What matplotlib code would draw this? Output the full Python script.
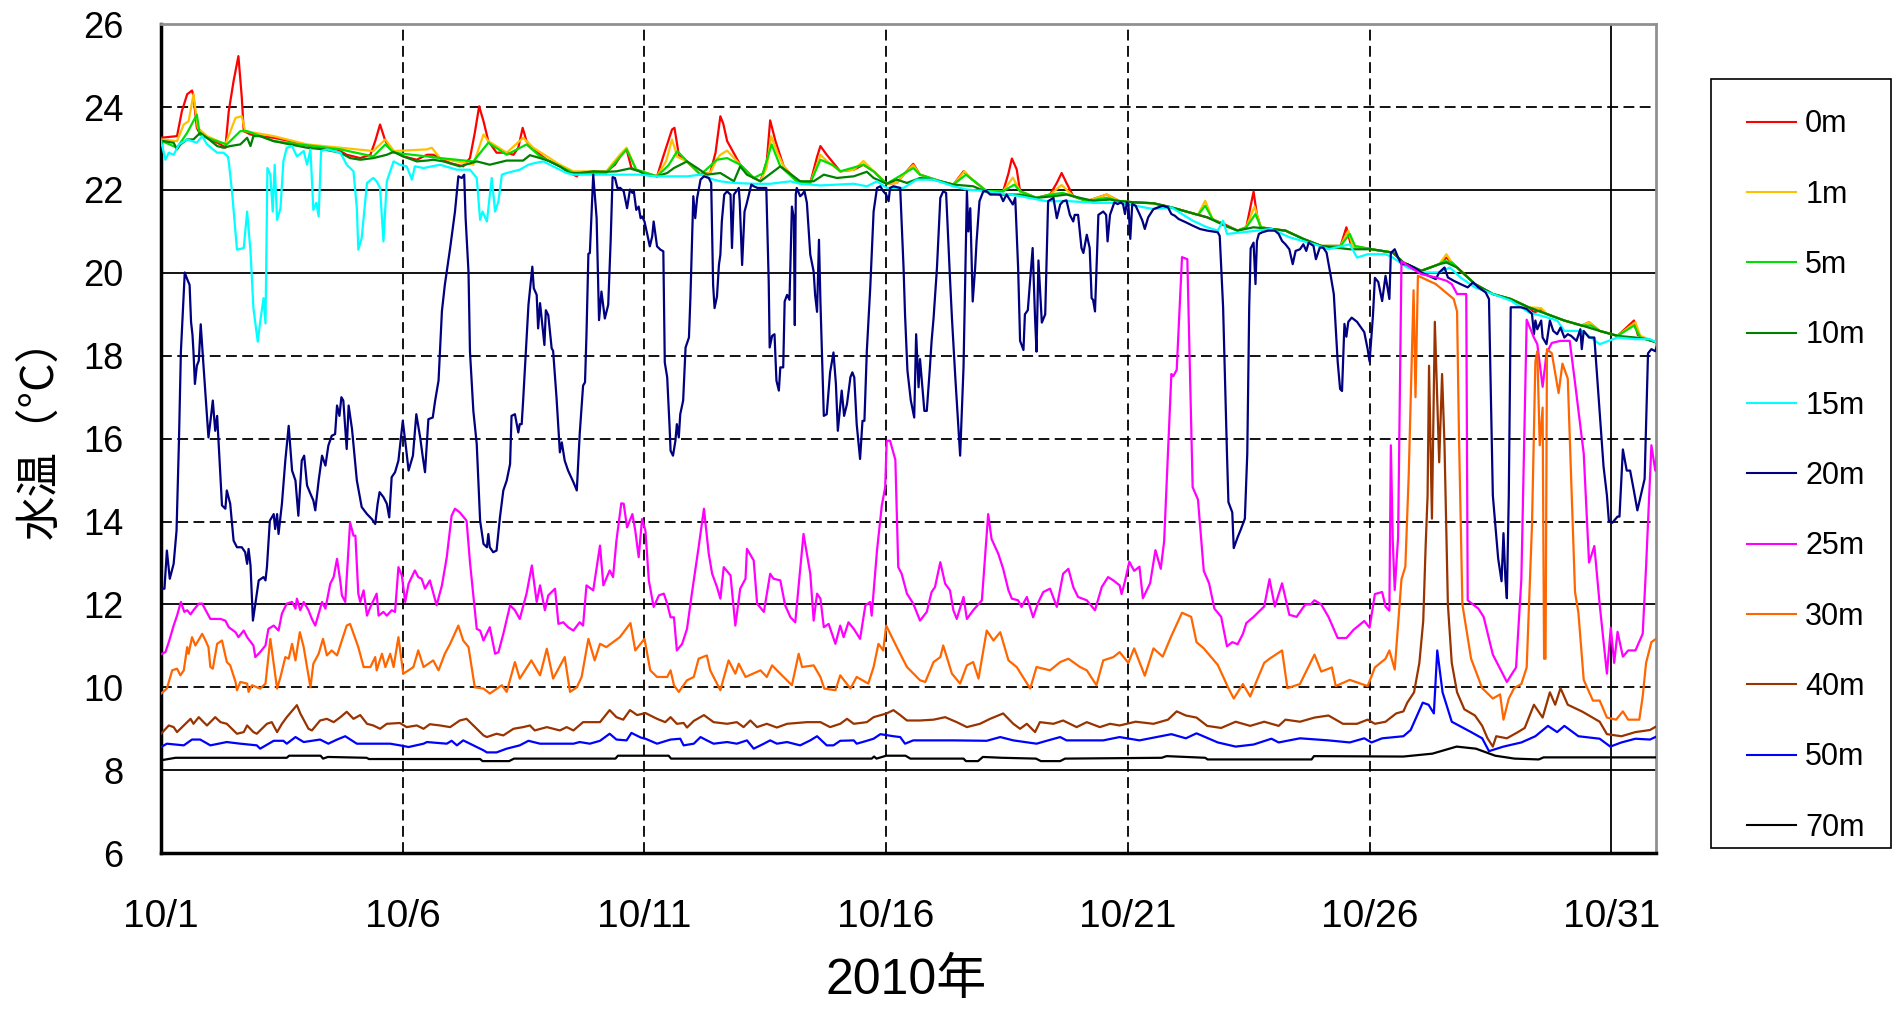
import matplotlib
matplotlib.use("Agg")
import matplotlib.pyplot as plt
from matplotlib.patches import Rectangle

# series names and colours, legend order
depths = ["0m", "1m", "5m", "10m", "15m", "20m", "25m", "30m", "40m", "50m", "70m"]
colors = ["#FF0000", "#FFC000", "#00E000", "#008000", "#00FFFF", "#000080",
          "#FF00FF", "#FF6600", "#993300", "#0000FF", "#000000"]

xticks = [0, 5, 10, 15, 20, 25, 30]
xticklabels = ["10/1", "10/6", "10/11", "10/16", "10/21", "10/26", "10/31"]
yticks = [6, 8, 10, 12, 14, 16, 18, 20, 22, 24, 26]

# (days since 10/1 0:00, water temperature degC)
t0m = [(0.00, 23.26), (0.33, 23.30), (0.43, 23.90), (0.54, 24.31), (0.64, 24.40), (0.67, 24.27),
       (0.74, 23.50), (0.81, 23.34), (0.95, 23.26), (1.23, 23.10), (1.33, 23.02), (1.40, 23.90),
       (1.50, 24.63), (1.60, 25.23), (1.67, 24.23), (1.71, 23.42), (1.85, 23.34), (2.05, 23.30),
       (2.33, 23.26), (2.67, 23.18), (3.02, 23.08), (3.36, 23.02), (3.64, 22.98), (3.84, 22.85),
       (4.12, 22.77), (4.33, 22.85), (4.43, 23.18), (4.53, 23.58), (4.64, 23.18), (4.81, 22.94),
       (5.01, 22.81), (5.29, 22.73), (5.50, 22.85), (5.63, 22.85), (5.77, 22.77), (5.98, 22.65),
       (6.25, 22.57), (6.39, 22.77), (6.49, 23.38), (6.58, 24.02), (6.67, 23.66), (6.77, 23.18),
       (6.94, 22.90), (7.15, 22.90), (7.29, 22.85), (7.39, 23.02), (7.48, 23.50), (7.56, 23.18),
       (7.70, 22.98), (7.98, 22.73), (8.25, 22.57), (8.46, 22.41), (8.60, 22.33), (8.66, 22.41),
       (8.94, 22.41), (9.21, 22.44), (9.39, 22.61), (9.52, 22.85), (9.63, 22.98), (9.73, 22.53),
       (9.90, 22.45), (10.26, 22.33), (10.40, 22.85), (10.57, 23.46), (10.62, 23.50), (10.71, 22.85),
       (10.88, 22.69), (11.16, 22.37), (11.36, 22.41), (11.47, 22.90), (11.57, 23.78), (11.63, 23.60),
       (11.71, 23.18), (11.98, 22.61), (12.26, 22.29), (12.40, 22.21), (12.53, 22.69), (12.60, 23.68),
       (12.71, 23.18), (12.88, 22.57), (13.15, 22.21), (13.43, 22.17), (13.57, 22.80), (13.64, 23.06),
       (13.77, 22.85), (14.05, 22.45), (14.33, 22.49), (14.53, 22.61), (14.74, 22.45), (15.01, 22.15),
       (15.22, 22.17), (15.36, 22.37), (15.56, 22.63), (15.70, 22.37), (16.12, 22.21), (16.39, 22.13),
       (16.60, 22.45), (16.74, 22.29), (17.08, 21.97), (17.42, 21.97), (17.53, 22.40), (17.60, 22.76),
       (17.70, 22.50), (17.77, 21.97), (18.11, 21.81), (18.39, 21.89), (18.53, 22.17), (18.63, 22.41),
       (18.73, 22.17), (18.87, 21.85), (19.15, 21.73), (19.56, 21.89), (19.83, 21.73), (20.16, 21.70),
       (20.53, 21.68), (20.90, 21.58), (21.27, 21.46), (21.64, 21.34), (21.95, 21.20), (22.27, 21.02),
       (22.45, 21.10), (22.60, 21.96), (22.67, 21.40), (22.75, 21.10), (22.97, 21.06), (23.26, 21.02),
       (23.63, 20.82), (24.00, 20.65), (24.40, 20.65), (24.52, 21.10), (24.62, 20.65), (25.04, 20.57),
       (25.48, 20.49), (25.70, 20.25), (26.07, 20.05), (26.44, 20.21), (26.59, 20.37), (26.70, 20.25),
       (26.81, 20.13), (27.18, 19.73), (27.55, 19.49), (27.92, 19.37), (28.29, 19.17), (28.40, 19.05),
       (28.55, 19.10), (28.66, 19.01), (29.03, 18.85), (29.39, 18.73), (29.54, 18.81), (29.76, 18.60),
       (30.13, 18.48), (30.47, 18.85), (30.55, 18.50), (30.72, 18.40), (30.95, 18.32)]

t1m = [(0.00, 23.22), (0.33, 23.18), (0.47, 23.58), (0.57, 23.66), (0.67, 24.31), (0.76, 23.50),
       (0.95, 23.30), (1.33, 23.10), (1.54, 23.74), (1.67, 23.78), (1.74, 23.42), (2.33, 23.30),
       (3.02, 23.10), (3.71, 23.02), (4.39, 22.94), (4.64, 23.22), (4.81, 22.94), (5.50, 22.98),
       (5.60, 23.02), (5.77, 22.77), (6.46, 22.61), (6.67, 23.34), (6.77, 23.18), (7.15, 22.90),
       (7.49, 23.26), (7.70, 23.02), (8.25, 22.61), (8.53, 22.45), (9.21, 22.45), (9.49, 22.85),
       (9.63, 23.02), (9.83, 22.49), (10.26, 22.33), (10.45, 22.70), (10.57, 23.22), (10.68, 22.80),
       (10.88, 22.69), (11.16, 22.37), (11.36, 22.41), (11.50, 22.75), (11.57, 22.85), (11.71, 22.95),
       (11.98, 22.61), (12.26, 22.29), (12.40, 22.21), (12.53, 22.55), (12.62, 23.30), (12.75, 22.90),
       (12.88, 22.57), (13.15, 22.21), (13.43, 22.17), (13.60, 22.70), (13.64, 22.85), (13.77, 22.70),
       (14.05, 22.45), (14.33, 22.49), (14.53, 22.70), (14.74, 22.45), (15.01, 22.15), (15.22, 22.17),
       (15.36, 22.37), (15.56, 22.60), (15.70, 22.37), (16.12, 22.21), (16.39, 22.13), (16.62, 22.45),
       (16.74, 22.29), (17.08, 21.97), (17.42, 21.97), (17.62, 22.30), (17.77, 21.97), (18.11, 21.81),
       (18.39, 21.89), (18.63, 22.12), (18.87, 21.85), (19.15, 21.73), (19.56, 21.89), (19.83, 21.73),
       (20.16, 21.70), (20.53, 21.68), (20.90, 21.58), (21.27, 21.46), (21.45, 21.40), (21.60, 21.74),
       (21.75, 21.30), (22.01, 21.14), (22.27, 21.02), (22.45, 21.10), (22.62, 21.60), (22.75, 21.10),
       (22.97, 21.06), (23.26, 21.02), (23.63, 20.82), (24.00, 20.65), (24.40, 20.65), (24.56, 21.02),
       (24.65, 20.65), (25.04, 20.57), (25.48, 20.49), (25.70, 20.25), (26.07, 20.05), (26.44, 20.21),
       (26.59, 20.45), (26.70, 20.25), (26.81, 20.13), (27.18, 19.73), (27.55, 19.49), (27.92, 19.37),
       (28.29, 19.17), (28.55, 19.15), (28.66, 19.01), (29.03, 18.85), (29.39, 18.73), (29.54, 18.81),
       (29.76, 18.60), (30.13, 18.48), (30.50, 18.81), (30.60, 18.48), (30.95, 18.32)]

t5m = [(0.00, 23.19), (0.33, 23.02), (0.54, 23.38), (0.74, 23.82), (0.80, 23.34), (0.95, 23.26),
       (1.36, 23.10), (1.64, 23.42), (1.78, 23.42), (2.33, 23.18), (3.71, 22.98), (4.39, 22.81),
       (4.64, 23.10), (4.81, 22.90), (5.50, 22.81), (5.77, 22.77), (6.46, 22.69), (6.77, 23.14),
       (7.15, 22.85), (7.56, 23.10), (7.84, 22.81), (8.25, 22.57), (8.53, 22.41), (9.21, 22.41),
       (9.63, 22.98), (9.83, 22.49), (10.26, 22.33), (10.50, 22.60), (10.68, 22.94), (10.88, 22.69),
       (11.16, 22.37), (11.50, 22.73), (11.71, 22.77), (11.98, 22.61), (12.26, 22.29), (12.45, 22.40),
       (12.63, 23.10), (12.81, 22.57), (13.15, 22.21), (13.43, 22.17), (13.64, 22.73), (13.90, 22.60),
       (14.05, 22.45), (14.53, 22.61), (14.74, 22.45), (15.01, 22.15), (15.56, 22.53), (15.70, 22.37),
       (16.12, 22.21), (16.39, 22.13), (16.65, 22.37), (16.74, 22.29), (17.08, 21.97), (17.42, 21.97),
       (17.65, 22.13), (17.77, 21.97), (18.11, 21.81), (18.39, 21.89), (18.65, 21.93), (18.87, 21.85),
       (19.15, 21.73), (19.56, 21.81), (19.83, 21.73), (20.16, 21.70), (20.53, 21.68), (20.90, 21.58),
       (21.27, 21.46), (21.45, 21.40), (21.60, 21.62), (21.75, 21.30), (22.01, 21.14), (22.27, 21.02),
       (22.45, 21.10), (22.64, 21.42), (22.75, 21.10), (22.97, 21.06), (23.26, 21.02), (23.63, 20.82),
       (24.00, 20.65), (24.40, 20.65), (24.59, 20.94), (24.70, 20.65), (25.04, 20.57), (25.48, 20.49),
       (25.70, 20.25), (26.07, 20.05), (26.44, 20.21), (26.55, 20.29), (26.70, 20.25), (26.81, 20.13),
       (27.18, 19.73), (27.55, 19.49), (27.92, 19.37), (28.29, 19.17), (28.66, 19.01), (29.03, 18.85),
       (29.39, 18.73), (29.58, 18.73), (29.76, 18.60), (30.13, 18.48), (30.47, 18.73), (30.60, 18.44),
       (30.95, 18.32)]

t10m = [(0.00, 23.19), (0.26, 23.14), (0.33, 22.98), (0.40, 23.10), (0.54, 23.22), (0.67, 23.22),
        (0.81, 23.38), (0.95, 23.26), (1.16, 23.06), (1.29, 23.02), (1.43, 23.06), (1.64, 23.10),
        (1.78, 23.26), (1.85, 23.06), (1.91, 23.30), (2.05, 23.30), (2.33, 23.18), (2.67, 23.10),
        (3.02, 23.02), (3.36, 22.98), (3.71, 22.90), (3.91, 22.77), (4.12, 22.73), (4.39, 22.77),
        (4.67, 22.85), (4.81, 22.92), (5.01, 22.81), (5.29, 22.69), (5.50, 22.71), (5.63, 22.73),
        (5.84, 22.69), (6.18, 22.57), (6.53, 22.69), (6.80, 22.61), (7.15, 22.71), (7.49, 22.71),
        (7.63, 22.84), (7.84, 22.77), (8.04, 22.69), (8.25, 22.57), (8.46, 22.41), (8.66, 22.41),
        (8.94, 22.45), (9.21, 22.44), (9.42, 22.45), (9.70, 22.52), (9.90, 22.45), (10.00, 22.37),
        (10.26, 22.33), (10.47, 22.41), (10.61, 22.53), (10.88, 22.69), (11.09, 22.53), (11.29, 22.37),
        (11.57, 22.41), (11.85, 22.21), (11.98, 22.57), (12.12, 22.37), (12.40, 22.21), (12.81, 22.57),
        (12.95, 22.45), (13.22, 22.21), (13.50, 22.21), (13.71, 22.37), (13.98, 22.29), (14.33, 22.33),
        (14.60, 22.44), (14.74, 22.29), (15.01, 22.15), (15.22, 22.25), (15.43, 22.17), (15.70, 22.29),
        (15.98, 22.25), (16.39, 22.13), (16.80, 22.09), (17.08, 21.95), (17.36, 21.89), (17.77, 21.89),
        (18.11, 21.81), (18.46, 21.85), (18.73, 21.89), (19.01, 21.81), (19.28, 21.74), (19.63, 21.77),
        (19.83, 21.73), (20.16, 21.70), (20.53, 21.68), (20.90, 21.58), (21.27, 21.46), (21.64, 21.34),
        (22.01, 21.14), (22.27, 21.02), (22.60, 21.10), (22.97, 21.06), (23.26, 21.02), (23.63, 20.82),
        (24.00, 20.65), (24.59, 20.57), (25.04, 20.57), (25.48, 20.49), (25.70, 20.25), (26.07, 20.05),
        (26.44, 20.21), (26.59, 20.25), (26.81, 20.13), (27.18, 19.73), (27.55, 19.49), (27.92, 19.37),
        (28.29, 19.17), (28.66, 19.01), (29.03, 18.85), (29.39, 18.73), (29.76, 18.60), (30.13, 18.48),
        (30.50, 18.44), (30.72, 18.40), (30.95, 18.32)]

t15m = [(0.00, 23.18), (0.09, 22.73), (0.16, 22.90), (0.26, 22.85), (0.37, 23.10), (0.54, 23.22),
        (0.74, 23.14), (0.85, 23.30), (0.95, 23.10), (1.16, 22.90), (1.29, 22.90), (1.38, 22.81),
        (1.40, 22.69), (1.47, 21.93), (1.57, 20.56), (1.71, 20.60), (1.78, 21.48), (1.85, 20.52),
        (1.91, 19.15), (2.00, 18.34), (2.05, 18.82), (2.12, 19.39), (2.16, 18.78), (2.20, 22.53),
        (2.26, 22.37), (2.31, 21.48), (2.35, 22.61), (2.40, 21.28), (2.47, 21.56), (2.53, 22.69),
        (2.60, 23.02), (2.71, 23.06), (2.81, 22.81), (2.95, 22.94), (3.02, 22.61), (3.09, 22.98),
        (3.15, 21.52), (3.21, 21.69), (3.26, 21.36), (3.31, 22.94), (3.43, 22.98), (3.71, 22.90),
        (3.84, 22.61), (3.98, 22.45), (4.05, 21.56), (4.08, 20.56), (4.15, 20.84), (4.26, 22.17),
        (4.39, 22.29), (4.46, 22.21), (4.53, 22.05), (4.60, 20.76), (4.67, 22.21), (4.81, 22.69),
        (4.94, 22.61), (5.08, 22.57), (5.19, 22.25), (5.25, 22.57), (5.43, 22.53), (5.77, 22.61),
        (6.12, 22.49), (6.39, 22.49), (6.53, 22.29), (6.60, 21.28), (6.65, 21.48), (6.74, 21.24),
        (6.84, 22.29), (6.91, 21.48), (6.98, 21.73), (7.05, 22.37), (7.15, 22.41), (7.42, 22.49),
        (7.60, 22.61), (7.73, 22.65), (7.91, 22.69), (8.11, 22.57), (8.39, 22.41), (8.53, 22.37),
        (8.94, 22.37), (9.21, 22.37), (9.56, 22.37), (9.90, 22.37), (10.26, 22.33), (10.88, 22.33),
        (11.16, 22.37), (11.43, 22.25), (11.57, 22.21), (11.85, 22.17), (12.26, 22.15), (12.60, 22.15),
        (13.02, 22.21), (13.22, 22.15), (13.64, 22.11), (14.33, 22.15), (14.60, 22.09), (14.81, 22.21),
        (15.01, 22.05), (15.36, 22.05), (15.63, 22.25), (15.98, 22.25), (16.39, 22.09), (16.67, 22.01),
        (17.08, 21.97), (17.77, 21.85), (18.32, 21.73), (18.80, 21.73), (19.28, 21.69), (19.83, 21.69),
        (20.16, 21.62), (20.53, 21.54), (20.90, 21.58), (21.34, 21.26), (21.64, 21.10), (21.86, 21.02),
        (21.97, 21.26), (22.05, 20.94), (22.38, 20.98), (22.67, 21.02), (22.97, 21.06), (23.34, 20.86),
        (23.86, 20.69), (24.15, 20.57), (24.59, 20.69), (24.74, 20.37), (24.96, 20.45), (25.33, 20.45),
        (25.48, 20.37), (25.78, 20.13), (26.07, 20.01), (26.44, 20.01), (26.66, 20.13), (26.88, 19.89),
        (27.18, 19.65), (27.55, 19.49), (27.92, 19.33), (28.29, 19.05), (28.66, 18.93), (28.88, 18.85),
        (29.03, 18.60), (29.39, 18.60), (29.76, 18.28), (30.13, 18.44), (30.50, 18.40), (30.80, 18.40),
        (30.95, 18.32)]

t20m = [(0.00, 12.38), (0.07, 12.38), (0.12, 13.30), (0.18, 12.62), (0.26, 12.98), (0.32, 13.78),
        (0.37, 15.95), (0.41, 18.10), (0.49, 20.01), (0.54, 19.85), (0.59, 19.71), (0.62, 18.82),
        (0.65, 18.50), (0.67, 18.10), (0.70, 17.32), (0.74, 17.76), (0.78, 17.88), (0.82, 18.76),
        (0.88, 17.72), (0.98, 16.03), (1.03, 16.51), (1.07, 16.92), (1.12, 16.19), (1.16, 16.55),
        (1.26, 14.39), (1.33, 14.31), (1.36, 14.75), (1.43, 14.43), (1.50, 13.54), (1.57, 13.38),
        (1.67, 13.38), (1.74, 13.26), (1.78, 12.98), (1.81, 13.34), (1.85, 12.94), (1.90, 11.61),
        (1.95, 12.02), (2.02, 12.58), (2.12, 12.66), (2.16, 12.58), (2.19, 12.90), (2.25, 14.02),
        (2.33, 14.18), (2.36, 13.82), (2.40, 14.18), (2.43, 13.70), (2.50, 14.43), (2.57, 15.47),
        (2.64, 16.31), (2.71, 15.23), (2.78, 14.99), (2.84, 14.14), (2.91, 15.47), (2.96, 15.59),
        (3.02, 14.87), (3.09, 14.67), (3.15, 14.51), (3.19, 14.27), (3.26, 14.99), (3.33, 15.59),
        (3.40, 15.35), (3.46, 15.83), (3.53, 16.07), (3.60, 16.11), (3.64, 16.80), (3.69, 16.55),
        (3.73, 17.00), (3.77, 16.92), (3.84, 15.75), (3.88, 16.80), (3.95, 16.23), (4.05, 14.99),
        (4.15, 14.35), (4.26, 14.18), (4.36, 14.06), (4.43, 13.94), (4.48, 14.43), (4.52, 14.71),
        (4.60, 14.59), (4.67, 14.43), (4.72, 14.10), (4.77, 15.07), (4.84, 15.19), (4.91, 15.47),
        (5.00, 16.43), (5.07, 15.75), (5.12, 15.23), (5.21, 15.59), (5.28, 16.59), (5.36, 16.03),
        (5.41, 15.59), (5.46, 15.19), (5.53, 16.47), (5.62, 16.51), (5.67, 16.92), (5.74, 17.40),
        (5.81, 19.08), (5.87, 19.71), (5.98, 20.60), (6.08, 21.48), (6.15, 22.33), (6.22, 22.29),
        (6.27, 22.37), (6.30, 21.32), (6.36, 20.01), (6.39, 18.10), (6.46, 16.67), (6.53, 15.87),
        (6.60, 14.02), (6.67, 13.46), (6.74, 13.38), (6.77, 13.70), (6.80, 13.38), (6.87, 13.26),
        (6.94, 13.30), (7.01, 14.10), (7.08, 14.75), (7.15, 14.99), (7.22, 15.39), (7.25, 16.55),
        (7.32, 16.59), (7.39, 16.15), (7.42, 16.35), (7.46, 16.35), (7.49, 16.92), (7.56, 18.36),
        (7.60, 19.23), (7.68, 20.15), (7.71, 19.63), (7.77, 19.47), (7.80, 18.66), (7.84, 19.27),
        (7.93, 18.26), (7.96, 19.10), (8.01, 18.98), (8.08, 18.18), (8.11, 18.12), (8.18, 17.00),
        (8.25, 15.67), (8.29, 15.91), (8.35, 15.47), (8.42, 15.23), (8.53, 14.95), (8.60, 14.75),
        (8.66, 16.11), (8.73, 17.28), (8.77, 17.36), (8.80, 18.50), (8.84, 20.46), (8.87, 20.48),
        (8.94, 22.37), (9.01, 21.32), (9.06, 18.86), (9.11, 19.55), (9.18, 18.90), (9.25, 19.23),
        (9.30, 20.76), (9.34, 22.31), (9.39, 22.29), (9.44, 22.05), (9.50, 22.05), (9.57, 21.97),
        (9.64, 21.56), (9.70, 22.01), (9.75, 21.93), (9.78, 21.97), (9.83, 21.52), (9.88, 21.60),
        (9.92, 21.32), (9.95, 21.36), (10.00, 21.24), (10.06, 20.92), (10.11, 20.64), (10.16, 20.88),
        (10.19, 21.24), (10.26, 20.64), (10.33, 20.56), (10.39, 20.52), (10.42, 17.84), (10.47, 17.48),
        (10.52, 16.27), (10.54, 15.71), (10.59, 15.59), (10.64, 15.95), (10.67, 16.35), (10.71, 16.03),
        (10.74, 16.59), (10.80, 16.92), (10.85, 18.20), (10.92, 18.44), (10.95, 19.39), (11.01, 21.85),
        (11.05, 21.32), (11.09, 21.81), (11.16, 22.25), (11.23, 22.33), (11.33, 22.29), (11.38, 22.17),
        (11.42, 19.71), (11.45, 19.15), (11.50, 19.43), (11.54, 20.19), (11.57, 20.44), (11.60, 21.24),
        (11.65, 21.89), (11.71, 21.97), (11.74, 21.93), (11.78, 21.89), (11.81, 20.60), (11.85, 21.89),
        (11.90, 21.97), (11.95, 22.05), (11.97, 21.73), (12.02, 20.19), (12.07, 21.48), (12.11, 21.65),
        (12.16, 21.89), (12.21, 22.13), (12.26, 22.09), (12.34, 22.05), (12.52, 22.05), (12.57, 19.79),
        (12.59, 18.20), (12.64, 18.48), (12.69, 18.52), (12.73, 17.40), (12.78, 17.16), (12.81, 17.72),
        (12.87, 17.72), (12.90, 19.31), (12.95, 19.47), (13.00, 19.35), (13.05, 21.60), (13.09, 21.32),
        (13.11, 18.74), (13.13, 21.89), (13.15, 22.05), (13.22, 21.85), (13.26, 21.89), (13.31, 21.97),
        (13.36, 21.69), (13.43, 20.44), (13.50, 20.03), (13.53, 19.47), (13.57, 19.06), (13.61, 20.80),
        (13.64, 19.30), (13.71, 16.55), (13.77, 16.59), (13.84, 17.60), (13.91, 18.08), (13.96, 17.32),
        (14.00, 16.19), (14.08, 17.16), (14.13, 16.55), (14.19, 16.84), (14.26, 17.48), (14.30, 17.60),
        (14.34, 17.48), (14.39, 16.35), (14.46, 15.51), (14.51, 16.43), (14.55, 16.43), (14.60, 18.12),
        (14.67, 19.63), (14.74, 21.48), (14.81, 22.05), (14.88, 22.09), (14.94, 21.97), (15.00, 21.89),
        (15.05, 21.73), (15.08, 22.05), (15.15, 22.09), (15.29, 22.05), (15.36, 20.11), (15.39, 19.00),
        (15.44, 17.64), (15.51, 16.92), (15.58, 16.51), (15.62, 18.52), (15.67, 17.24), (15.70, 17.92),
        (15.79, 16.67), (15.84, 16.67), (15.90, 17.64), (15.94, 18.36), (15.98, 18.90), (16.05, 20.11),
        (16.12, 21.81), (16.18, 21.97), (16.24, 21.93), (16.32, 19.87), (16.36, 18.92), (16.43, 17.48),
        (16.53, 15.59), (16.60, 17.72), (16.67, 21.97), (16.70, 21.00), (16.74, 21.56), (16.79, 19.31),
        (16.84, 20.11), (16.87, 20.76), (16.93, 21.73), (17.01, 21.97), (17.08, 21.97), (17.15, 21.89),
        (17.36, 21.89), (17.42, 21.73), (17.49, 21.89), (17.62, 21.65), (17.67, 21.81), (17.73, 20.11),
        (17.77, 18.36), (17.84, 18.14), (17.87, 19.00), (17.93, 19.10), (18.03, 20.60), (18.08, 18.90),
        (18.11, 18.10), (18.15, 20.30), (18.22, 18.80), (18.29, 19.00), (18.35, 21.73), (18.46, 21.81),
        (18.53, 21.32), (18.60, 21.65), (18.66, 21.73), (18.73, 21.75), (18.80, 21.40), (18.87, 21.24),
        (18.90, 21.40), (18.97, 21.40), (19.04, 20.60), (19.08, 20.48), (19.15, 20.92), (19.21, 20.60),
        (19.25, 19.39), (19.28, 19.35), (19.32, 19.07), (19.39, 21.40), (19.49, 21.48), (19.55, 21.40),
        (19.58, 20.76), (19.63, 21.40), (19.72, 21.70), (19.79, 21.66), (19.85, 21.70), (19.90, 21.66),
        (19.94, 21.42), (19.98, 21.70), (20.01, 21.66), (20.05, 20.82), (20.09, 21.66), (20.16, 21.62),
        (20.24, 21.42), (20.30, 21.26), (20.35, 21.06), (20.42, 21.34), (20.53, 21.54), (20.72, 21.62),
        (20.83, 21.58), (20.90, 21.42), (20.97, 21.38), (21.05, 21.30), (21.20, 21.22), (21.34, 21.14),
        (21.49, 21.06), (21.64, 21.02), (21.86, 20.98), (21.90, 20.89), (21.97, 19.17), (22.05, 15.64),
        (22.08, 14.47), (22.16, 14.22), (22.19, 13.36), (22.27, 13.62), (22.34, 13.82), (22.42, 14.07),
        (22.47, 15.64), (22.51, 19.17), (22.54, 20.59), (22.60, 20.73), (22.64, 19.73), (22.67, 20.77),
        (22.71, 20.94), (22.78, 20.98), (22.90, 21.02), (23.04, 21.02), (23.12, 20.94), (23.19, 20.77),
        (23.26, 20.69), (23.34, 20.57), (23.41, 20.21), (23.47, 20.53), (23.56, 20.57), (23.63, 20.69),
        (23.69, 20.53), (23.74, 20.73), (23.84, 20.65), (23.89, 20.33), (23.97, 20.61), (24.04, 20.61),
        (24.11, 20.49), (24.19, 19.97), (24.26, 19.49), (24.34, 17.86), (24.39, 17.20), (24.43, 17.15),
        (24.48, 18.77), (24.52, 18.46), (24.56, 18.82), (24.63, 18.92), (24.74, 18.82), (24.89, 18.57),
        (24.96, 18.16), (25.00, 17.86), (25.07, 18.97), (25.11, 19.88), (25.18, 19.78), (25.26, 19.32),
        (25.33, 19.93), (25.41, 19.37), (25.44, 20.48), (25.52, 20.57), (25.59, 20.37), (25.66, 20.21),
        (25.78, 20.21), (25.92, 20.13), (26.07, 20.01), (26.22, 19.93), (26.37, 19.85), (26.44, 20.01),
        (26.55, 20.13), (26.62, 19.89), (26.74, 19.81), (26.88, 19.73), (27.03, 19.65), (27.14, 19.77),
        (27.25, 19.65), (27.40, 19.53), (27.47, 19.37), (27.55, 14.63), (27.66, 13.11), (27.73, 12.56),
        (27.77, 13.72), (27.81, 12.61), (27.84, 12.15), (27.88, 14.63), (27.92, 19.17), (27.99, 19.17),
        (28.14, 19.17), (28.25, 19.13), (28.36, 19.01), (28.40, 18.52), (28.43, 18.85), (28.47, 18.64),
        (28.55, 18.85), (28.58, 18.44), (28.66, 18.28), (28.73, 18.85), (28.80, 18.60), (28.88, 18.52),
        (28.95, 18.68), (29.03, 18.44), (29.10, 18.52), (29.17, 18.48), (29.28, 18.36), (29.36, 18.64),
        (29.39, 18.16), (29.43, 18.60), (29.54, 18.44), (29.65, 18.44), (29.76, 16.65), (29.84, 15.33),
        (29.91, 14.63), (29.95, 14.02), (30.02, 13.97), (30.13, 14.12), (30.17, 14.12), (30.24, 15.74),
        (30.32, 15.23), (30.39, 15.23), (30.47, 14.73), (30.54, 14.27), (30.61, 14.63), (30.69, 15.03),
        (30.76, 18.06), (30.83, 18.16), (30.91, 18.11), (30.95, 18.26)]

t25m = [(0.00, 10.80), (0.09, 10.85), (0.16, 11.09), (0.26, 11.49), (0.33, 11.73), (0.41, 12.06),
        (0.48, 11.82), (0.54, 11.86), (0.61, 11.76), (0.67, 11.86), (0.78, 12.02), (0.85, 12.02),
        (1.02, 11.65), (1.23, 11.65), (1.33, 11.61), (1.40, 11.45), (1.54, 11.33), (1.60, 11.21),
        (1.71, 11.37), (1.78, 11.21), (1.91, 11.01), (1.95, 10.73), (2.05, 10.85), (2.16, 11.01),
        (2.22, 11.41), (2.33, 11.49), (2.43, 11.37), (2.50, 11.78), (2.60, 12.02), (2.71, 12.06),
        (2.78, 11.90), (2.81, 12.14), (2.88, 11.86), (2.95, 12.06), (3.05, 11.86), (3.12, 11.65),
        (3.19, 11.49), (3.33, 12.06), (3.40, 11.90), (3.50, 12.50), (3.57, 12.66), (3.64, 13.10),
        (3.71, 12.54), (3.74, 12.22), (3.81, 12.06), (3.91, 13.98), (3.98, 13.66), (4.02, 13.66),
        (4.08, 12.26), (4.12, 12.06), (4.19, 12.34), (4.26, 11.73), (4.33, 11.94), (4.46, 12.26),
        (4.50, 11.73), (4.60, 11.82), (4.67, 11.73), (4.77, 11.86), (4.84, 11.82), (4.91, 12.90),
        (4.98, 12.70), (5.05, 12.06), (5.12, 12.50), (5.25, 12.82), (5.32, 12.66), (5.39, 12.62),
        (5.46, 12.38), (5.56, 12.58), (5.70, 11.98), (5.81, 12.46), (5.91, 13.14), (6.01, 14.14),
        (6.08, 14.31), (6.18, 14.22), (6.32, 14.02), (6.39, 13.02), (6.53, 11.41), (6.60, 11.37),
        (6.67, 11.13), (6.80, 11.45), (6.91, 10.81), (6.98, 10.85), (7.08, 11.29), (7.22, 11.98),
        (7.32, 11.86), (7.42, 11.65), (7.56, 12.26), (7.67, 12.94), (7.77, 12.06), (7.84, 12.46),
        (7.94, 11.86), (8.01, 12.22), (8.15, 12.38), (8.22, 11.53), (8.32, 11.57), (8.42, 11.45),
        (8.53, 11.37), (8.66, 11.57), (8.73, 11.49), (8.80, 12.46), (8.94, 12.34), (9.08, 13.42),
        (9.15, 12.46), (9.28, 12.82), (9.35, 12.66), (9.42, 13.54), (9.52, 14.44), (9.57, 14.43),
        (9.64, 13.86), (9.75, 14.18), (9.81, 13.78), (9.88, 13.14), (9.95, 14.06), (10.02, 13.78),
        (10.09, 12.58), (10.19, 11.94), (10.30, 12.22), (10.40, 12.26), (10.47, 12.02), (10.54, 11.69),
        (10.61, 11.69), (10.67, 10.89), (10.78, 11.05), (10.88, 11.41), (10.98, 12.26), (11.12, 13.38),
        (11.23, 14.31), (11.33, 13.22), (11.40, 12.74), (11.50, 12.42), (11.57, 12.14), (11.64, 12.90),
        (11.78, 12.70), (11.88, 11.49), (11.98, 12.38), (12.09, 12.62), (12.12, 13.34), (12.26, 13.06),
        (12.33, 12.02), (12.47, 11.82), (12.60, 12.74), (12.67, 12.62), (12.81, 12.58), (12.91, 11.98),
        (13.02, 11.69), (13.12, 11.57), (13.19, 12.46), (13.29, 13.70), (13.43, 12.74), (13.50, 11.61),
        (13.57, 12.26), (13.64, 12.14), (13.71, 11.45), (13.81, 11.53), (13.95, 11.05), (14.05, 11.49),
        (14.12, 11.21), (14.22, 11.57), (14.33, 11.41), (14.46, 11.17), (14.57, 11.98), (14.67, 12.06),
        (14.70, 11.73), (14.81, 13.30), (14.91, 14.39), (14.98, 14.83), (15.01, 15.95), (15.08, 15.95),
        (15.19, 15.49), (15.25, 12.90), (15.32, 12.74), (15.43, 12.26), (15.56, 12.02), (15.70, 11.61),
        (15.84, 11.82), (15.94, 12.30), (16.01, 12.42), (16.12, 13.02), (16.22, 12.50), (16.32, 12.34),
        (16.39, 11.86), (16.46, 11.65), (16.60, 12.18), (16.67, 11.65), (16.80, 11.86), (16.98, 12.10),
        (17.11, 14.18), (17.18, 13.58), (17.32, 13.22), (17.42, 12.86), (17.53, 12.34), (17.60, 12.14),
        (17.73, 12.10), (17.80, 11.94), (17.91, 12.18), (18.04, 11.69), (18.15, 12.06), (18.25, 12.30),
        (18.39, 12.38), (18.53, 11.94), (18.66, 12.74), (18.77, 12.86), (18.87, 12.42), (18.97, 12.18),
        (19.15, 12.10), (19.32, 11.86), (19.46, 12.42), (19.59, 12.66), (19.70, 12.58), (19.83, 12.46),
        (19.87, 12.25), (19.94, 12.56), (20.03, 13.03), (20.13, 12.81), (20.24, 12.91), (20.31, 12.15),
        (20.46, 12.51), (20.57, 13.31), (20.68, 12.86), (20.75, 13.52), (20.86, 16.44), (20.90, 17.56),
        (20.94, 17.51), (21.01, 17.66), (21.12, 20.38), (21.23, 20.33), (21.34, 14.83), (21.45, 14.53),
        (21.57, 12.81), (21.68, 12.51), (21.79, 11.90), (21.93, 11.70), (22.05, 10.99), (22.16, 11.09),
        (22.27, 11.04), (22.38, 11.29), (22.45, 11.55), (22.60, 11.70), (22.82, 11.95), (22.93, 12.61),
        (23.04, 11.95), (23.19, 12.51), (23.34, 11.75), (23.49, 11.70), (23.67, 12.00), (23.78, 12.00),
        (23.86, 12.10), (24.00, 12.00), (24.15, 11.70), (24.34, 11.19), (24.52, 11.19), (24.67, 11.39),
        (24.89, 11.60), (25.00, 11.44), (25.11, 12.25), (25.26, 12.30), (25.33, 11.95), (25.41, 11.85),
        (25.44, 15.84), (25.48, 13.52), (25.52, 12.35), (25.59, 13.62), (25.66, 20.28), (25.85, 20.13),
        (26.07, 19.97), (26.37, 19.89), (26.59, 19.81), (26.70, 19.73), (26.81, 19.49), (27.00, 19.49),
        (27.03, 12.10), (27.25, 11.90), (27.36, 11.70), (27.55, 10.79), (27.84, 10.13), (28.03, 10.48),
        (28.14, 12.61), (28.25, 18.87), (28.40, 18.44), (28.47, 18.28), (28.58, 17.25), (28.66, 18.06),
        (28.77, 18.31), (28.95, 18.36), (29.14, 18.36), (29.25, 17.35), (29.43, 15.64), (29.54, 13.01),
        (29.65, 13.41), (29.76, 12.00), (29.91, 10.33), (29.99, 11.44), (30.06, 10.59), (30.13, 11.34),
        (30.24, 10.74), (30.35, 10.89), (30.50, 10.89), (30.65, 11.29), (30.72, 12.91), (30.83, 15.84),
        (30.91, 15.23), (30.95, 15.64)]

t30m = [(0.00, 9.85), (0.12, 9.97), (0.23, 10.41), (0.33, 10.45), (0.40, 10.29), (0.47, 10.41),
        (0.54, 10.97), (0.57, 10.81), (0.64, 11.21), (0.71, 11.01), (0.85, 11.29), (0.92, 11.13),
        (0.98, 10.97), (1.02, 10.49), (1.07, 10.45), (1.16, 11.05), (1.26, 11.13), (1.36, 10.61),
        (1.43, 10.53), (1.54, 10.13), (1.57, 9.93), (1.64, 10.13), (1.78, 10.09), (1.81, 9.89),
        (1.88, 10.05), (2.05, 9.97), (2.16, 10.09), (2.26, 11.17), (2.40, 9.97), (2.47, 10.25),
        (2.57, 10.73), (2.64, 10.69), (2.71, 11.05), (2.78, 10.65), (2.87, 11.33), (2.95, 10.97),
        (3.09, 10.00), (3.15, 10.57), (3.26, 10.81), (3.35, 11.17), (3.43, 10.77), (3.53, 10.89),
        (3.64, 10.77), (3.74, 11.13), (3.84, 11.49), (3.91, 11.53), (4.08, 10.97), (4.19, 10.49),
        (4.33, 10.49), (4.43, 10.73), (4.46, 10.41), (4.57, 10.81), (4.64, 10.49), (4.74, 10.81),
        (4.81, 10.49), (4.91, 11.21), (5.01, 10.33), (5.12, 10.41), (5.22, 10.49), (5.32, 10.89),
        (5.43, 10.49), (5.63, 10.65), (5.74, 10.41), (5.87, 10.81), (5.98, 11.05), (6.15, 11.49),
        (6.25, 11.13), (6.36, 10.97), (6.49, 10.00), (6.67, 9.97), (6.80, 9.85), (7.05, 10.05),
        (7.15, 9.89), (7.32, 10.61), (7.42, 10.21), (7.66, 10.65), (7.84, 10.29), (7.98, 10.93),
        (8.11, 10.21), (8.35, 10.73), (8.46, 9.89), (8.60, 10.00), (8.70, 10.25), (8.84, 11.17),
        (8.97, 10.65), (9.08, 11.05), (9.21, 10.97), (9.49, 11.21), (9.71, 11.55), (9.81, 10.89),
        (9.92, 11.05), (10.00, 11.17), (10.12, 10.41), (10.26, 10.25), (10.47, 10.25), (10.54, 10.41),
        (10.61, 10.05), (10.71, 9.89), (10.88, 10.17), (11.02, 10.25), (11.12, 10.69), (11.29, 10.77),
        (11.36, 10.41), (11.57, 9.93), (11.74, 10.65), (11.88, 10.33), (11.95, 10.57), (12.09, 10.25),
        (12.40, 10.41), (12.53, 10.25), (12.64, 10.53), (12.74, 10.41), (13.05, 10.05), (13.19, 10.81),
        (13.26, 10.49), (13.50, 10.53), (13.64, 10.25), (13.72, 9.97), (13.95, 9.93), (14.05, 10.29),
        (14.26, 9.97), (14.39, 10.25), (14.63, 10.09), (14.74, 10.49), (14.84, 11.05), (14.94, 10.89),
        (15.00, 11.49), (15.22, 10.97), (15.43, 10.49), (15.70, 10.17), (15.81, 10.13), (15.98, 10.61),
        (16.12, 10.73), (16.18, 11.01), (16.36, 10.33), (16.53, 10.09), (16.67, 10.53), (16.80, 10.61),
        (16.91, 10.21), (17.08, 11.37), (17.22, 11.13), (17.36, 11.33), (17.53, 10.65), (17.70, 10.49),
        (17.98, 9.97), (18.11, 10.49), (18.39, 10.41), (18.60, 10.61), (18.77, 10.69), (19.01, 10.49),
        (19.15, 10.41), (19.35, 10.05), (19.49, 10.65), (19.70, 10.73), (19.83, 10.85), (20.01, 10.59),
        (20.13, 10.94), (20.35, 10.28), (20.53, 10.94), (20.72, 10.74), (20.90, 11.24), (21.12, 11.80),
        (21.31, 11.70), (21.42, 11.09), (21.57, 10.94), (21.86, 10.54), (22.08, 9.98), (22.19, 9.73),
        (22.38, 10.08), (22.53, 9.78), (22.82, 10.59), (22.93, 10.69), (23.19, 10.89), (23.30, 9.98),
        (23.56, 10.08), (23.86, 10.79), (24.00, 10.38), (24.22, 10.48), (24.30, 10.03), (24.59, 10.18),
        (24.96, 10.03), (25.11, 10.48), (25.33, 10.69), (25.41, 10.89), (25.52, 10.43), (25.55, 10.89),
        (25.66, 12.61), (25.74, 12.91), (25.81, 15.13), (25.91, 19.58), (25.95, 17.00), (26.00, 19.93),
        (26.37, 19.73), (26.74, 19.37), (26.81, 19.07), (26.85, 16.04), (26.92, 12.00), (27.10, 10.69),
        (27.33, 9.98), (27.55, 9.73), (27.70, 9.83), (27.77, 9.22), (27.88, 9.73), (27.99, 9.98),
        (28.14, 10.08), (28.25, 10.48), (28.36, 13.92), (28.43, 17.86), (28.47, 18.11), (28.52, 15.84),
        (28.58, 16.75), (28.61, 10.69), (28.64, 10.69), (28.67, 18.16), (28.77, 18.06), (28.91, 17.10),
        (28.99, 17.81), (29.10, 17.45), (29.25, 12.30), (29.32, 11.80), (29.43, 10.18), (29.62, 9.68),
        (29.76, 9.68), (29.91, 9.27), (30.10, 9.22), (30.24, 9.42), (30.35, 9.22), (30.58, 9.22),
        (30.65, 9.78), (30.72, 10.59), (30.83, 11.09), (30.95, 11.19)]

t40m = [(0.00, 8.88), (0.16, 9.08), (0.26, 9.04), (0.33, 8.92), (0.54, 9.16), (0.61, 9.24),
        (0.67, 9.12), (0.78, 9.28), (0.88, 9.16), (0.95, 9.08), (1.12, 9.28), (1.23, 9.16),
        (1.36, 9.12), (1.50, 8.96), (1.57, 8.88), (1.71, 8.92), (1.78, 9.08), (1.91, 8.92),
        (1.98, 8.88), (2.19, 9.12), (2.29, 9.16), (2.40, 8.92), (2.50, 9.12), (2.60, 9.28),
        (2.81, 9.57), (2.88, 9.37), (3.05, 9.00), (3.12, 8.96), (3.29, 9.20), (3.43, 9.24),
        (3.57, 9.16), (3.71, 9.28), (3.84, 9.41), (3.98, 9.24), (4.12, 9.33), (4.26, 9.12),
        (4.39, 9.08), (4.53, 9.00), (4.67, 9.12), (4.94, 9.14), (5.08, 9.04), (5.29, 9.08),
        (5.43, 9.00), (5.56, 9.11), (5.77, 9.08), (5.98, 9.04), (6.18, 9.20), (6.32, 9.24),
        (6.53, 9.00), (6.67, 8.84), (6.74, 8.80), (6.94, 8.88), (7.08, 8.84), (7.29, 9.00),
        (7.49, 9.04), (7.63, 9.08), (7.73, 8.96), (7.98, 9.04), (8.25, 8.96), (8.39, 9.04),
        (8.53, 8.96), (8.73, 9.16), (9.08, 9.16), (9.28, 9.45), (9.42, 9.28), (9.56, 9.22),
        (9.70, 9.45), (9.85, 9.33), (10.02, 9.38), (10.26, 9.24), (10.43, 9.16), (10.54, 9.28),
        (10.67, 9.12), (10.81, 9.14), (10.88, 9.03), (11.02, 9.19), (11.23, 9.33), (11.43, 9.16),
        (11.71, 9.12), (11.91, 9.16), (12.05, 9.04), (12.19, 9.20), (12.33, 9.04), (12.53, 9.12),
        (12.74, 9.03), (12.95, 9.12), (13.36, 9.16), (13.64, 9.16), (13.84, 9.04), (14.05, 9.12),
        (14.19, 9.24), (14.33, 9.12), (14.60, 9.16), (14.74, 9.28), (15.01, 9.37), (15.15, 9.45),
        (15.29, 9.33), (15.43, 9.20), (15.70, 9.20), (15.98, 9.22), (16.22, 9.28), (16.46, 9.16),
        (16.67, 9.04), (16.94, 9.12), (17.15, 9.24), (17.42, 9.37), (17.63, 9.12), (17.77, 9.00),
        (17.91, 9.12), (18.08, 8.92), (18.18, 9.16), (18.46, 9.12), (18.66, 9.20), (18.94, 9.04),
        (19.15, 9.16), (19.42, 9.04), (19.63, 9.12), (19.83, 9.08), (20.16, 9.17), (20.53, 9.12),
        (20.83, 9.22), (21.01, 9.42), (21.20, 9.32), (21.42, 9.27), (21.64, 9.07), (21.93, 9.02),
        (22.23, 9.17), (22.53, 9.07), (22.82, 9.17), (23.12, 9.07), (23.26, 9.22), (23.56, 9.17),
        (23.86, 9.27), (24.15, 9.32), (24.45, 9.12), (24.74, 9.12), (24.96, 9.22), (25.11, 9.12),
        (25.33, 9.17), (25.55, 9.37), (25.70, 9.42), (25.78, 9.63), (25.92, 9.88), (26.03, 10.59),
        (26.11, 11.60), (26.16, 13.41), (26.20, 14.63), (26.23, 17.76), (26.29, 14.07), (26.35, 18.82),
        (26.44, 15.43), (26.50, 17.56), (26.55, 15.84), (26.62, 12.00), (26.70, 10.59), (26.81, 9.88),
        (26.96, 9.47), (27.18, 9.32), (27.33, 9.07), (27.44, 8.77), (27.55, 8.57), (27.62, 8.82),
        (27.84, 8.77), (28.07, 8.92), (28.21, 9.02), (28.40, 9.58), (28.58, 9.27), (28.73, 9.88),
        (28.84, 9.58), (28.95, 9.98), (29.10, 9.58), (29.39, 9.42), (29.54, 9.32), (29.76, 9.17),
        (29.91, 8.87), (30.21, 8.82), (30.50, 8.92), (30.80, 8.97), (30.95, 9.07)]

t50m = [(0.00, 8.56), (0.12, 8.64), (0.47, 8.60), (0.64, 8.74), (0.81, 8.74), (1.02, 8.60),
        (1.36, 8.68), (1.64, 8.64), (1.98, 8.60), (2.05, 8.52), (2.33, 8.71), (2.53, 8.71),
        (2.60, 8.64), (2.78, 8.80), (2.95, 8.68), (3.29, 8.74), (3.46, 8.64), (3.64, 8.74),
        (3.81, 8.82), (4.05, 8.64), (4.39, 8.64), (4.74, 8.64), (4.94, 8.60), (5.12, 8.56),
        (5.43, 8.64), (5.50, 8.68), (5.91, 8.64), (6.01, 8.71), (6.12, 8.60), (6.25, 8.72),
        (6.53, 8.56), (6.67, 8.48), (6.74, 8.43), (6.94, 8.43), (7.15, 8.52), (7.42, 8.60),
        (7.60, 8.71), (7.84, 8.64), (8.53, 8.64), (8.66, 8.68), (8.87, 8.64), (9.08, 8.71),
        (9.28, 8.88), (9.42, 8.74), (9.63, 8.72), (9.73, 8.90), (9.92, 8.79), (10.02, 8.76),
        (10.26, 8.64), (10.54, 8.74), (10.74, 8.76), (10.81, 8.60), (11.02, 8.64), (11.16, 8.80),
        (11.29, 8.72), (11.43, 8.64), (11.71, 8.68), (11.91, 8.64), (12.12, 8.72), (12.26, 8.52),
        (12.47, 8.64), (12.60, 8.72), (12.74, 8.64), (12.95, 8.68), (13.22, 8.60), (13.43, 8.72),
        (13.57, 8.82), (13.77, 8.60), (13.91, 8.60), (14.05, 8.71), (14.33, 8.72), (14.39, 8.64),
        (14.60, 8.71), (14.74, 8.76), (14.88, 8.87), (15.15, 8.82), (15.29, 8.80), (15.39, 8.64),
        (15.56, 8.72), (16.39, 8.72), (17.08, 8.71), (17.36, 8.80), (17.63, 8.72), (18.11, 8.64),
        (18.32, 8.71), (18.60, 8.80), (18.73, 8.72), (19.49, 8.72), (19.83, 8.80), (20.24, 8.72),
        (20.90, 8.87), (21.20, 8.77), (21.42, 8.89), (21.86, 8.67), (22.23, 8.57), (22.60, 8.62),
        (22.97, 8.76), (23.12, 8.67), (23.56, 8.77), (24.15, 8.72), (24.59, 8.67), (24.89, 8.77),
        (25.04, 8.67), (25.26, 8.77), (25.70, 8.82), (25.85, 8.97), (26.10, 9.63), (26.22, 9.58),
        (26.33, 9.37), (26.40, 10.89), (26.51, 9.88), (26.70, 9.17), (27.10, 8.92), (27.33, 8.77),
        (27.47, 8.46), (27.77, 8.57), (28.14, 8.67), (28.43, 8.82), (28.69, 9.07), (28.88, 8.92),
        (29.03, 9.07), (29.32, 8.82), (29.76, 8.76), (29.98, 8.57), (30.21, 8.67), (30.50, 8.76),
        (30.80, 8.74), (30.95, 8.82)]

t70m = [(0.00, 8.24), (0.30, 8.30), (2.60, 8.30), (2.65, 8.35), (3.30, 8.35), (3.35, 8.28),
        (3.45, 8.32), (4.25, 8.30), (4.30, 8.27), (6.60, 8.27), (6.65, 8.22), (7.20, 8.22),
        (7.30, 8.28), (9.40, 8.28), (9.45, 8.35), (10.50, 8.35), (10.55, 8.28), (14.70, 8.28),
        (14.75, 8.33), (14.80, 8.28), (15.00, 8.35), (15.40, 8.35), (15.50, 8.28), (16.60, 8.28),
        (16.65, 8.22), (16.90, 8.22), (17.00, 8.32), (17.40, 8.30), (18.10, 8.28), (18.20, 8.22),
        (18.60, 8.22), (18.70, 8.28), (20.70, 8.30), (20.80, 8.34), (21.60, 8.30), (21.65, 8.26),
        (23.80, 8.26), (23.85, 8.34), (25.70, 8.33), (26.30, 8.40), (26.80, 8.57), (27.20, 8.52),
        (27.60, 8.35), (28.00, 8.28), (28.50, 8.26), (28.60, 8.31), (30.95, 8.31)]

series = [t0m, t1m, t5m, t10m, t15m, t20m, t25m, t30m, t40m, t50m, t70m]

plt.rcParams['font.family'] = ['Liberation Sans', 'Noto Sans CJK JP']

fig = plt.figure(figsize=(18.95, 10.09), dpi=100)
ax = fig.add_axes([0.085, 0.1545, 0.789, 0.8215])

for name, col, pts in zip(depths, colors, series):
    xs = [p[0] for p in pts]
    ys = [p[1] for p in pts]
    ax.plot(xs, ys, color=col, lw=1.6, label=name, zorder=3)

# grid: mostly dashed, a few lines come out solid in the original
for y in yticks[1:]:
    ls = '-' if y in (8, 12, 20, 22) else (0, (6, 3))
    ax.axhline(y, color='black', lw=1.3, ls=ls, zorder=1)
for x in xticks[1:]:
    ls = '-' if x == 30 else (0, (6, 3))
    ax.axvline(x, color='black', lw=1.3, ls=ls, zorder=1)

ax.set_xlim(0, 30.93)
ax.set_ylim(6, 26)
ax.set_xticks(xticks)
ax.set_xticklabels(xticklabels)
ax.set_yticks(yticks)
ax.tick_params(axis='x', length=0, labelsize=28, pad=33)
ax.tick_params(axis='y', length=0, labelsize=26, pad=27)

ax.spines['left'].set_linewidth(2.5)
ax.spines['bottom'].set_linewidth(2.5)
ax.spines['top'].set_color('#909090')
ax.spines['right'].set_color('#909090')
ax.spines['top'].set_linewidth(2)
ax.spines['right'].set_linewidth(2)

fig.text(0.021, 0.576, "水温（°C）", rotation=90, ha='center', va='center', fontsize=32,
         family=['Noto Sans CJK JP', 'DejaVu Sans'])
fig.text(0.478, 0.028, "2010年", ha='center', va='center', fontsize=36,
         family=['Liberation Sans', 'Noto Sans CJK JP'])

# legend entries without frame, the box is drawn separately
leg = fig.legend(loc='upper left', bbox_to_anchor=(0.922, 0.8916), frameon=False,
                 fontsize=22, handlelength=1.6, handletextpad=0.3, labelspacing=1.32,
                 borderpad=0, borderaxespad=0)
for line in leg.get_lines():
    line.set_linewidth(1.5)
fig.patches.append(Rectangle((0.9029, 0.1596), 0.095, 0.762, transform=fig.transFigure,
                             fill=False, edgecolor='black', lw=1.2))

fig.savefig("out.png", dpi=100)
